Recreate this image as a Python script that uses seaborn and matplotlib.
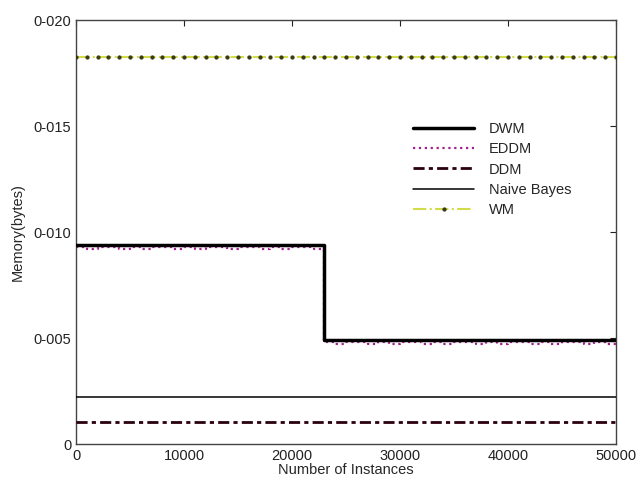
import matplotlib
matplotlib.use("Agg")
import matplotlib.pyplot as plt
import seaborn as sns
import pandas as pd
from matplotlib.ticker import FixedLocator, FixedFormatter

instances = list(range(0, 50001, 1000))

dwm = [0.0094] * 23 + [0.0049] * 28
eddm = [0.0093, 0.0092, 0.0093, 0.0093, 0.0092, 0.0093, 0.0092, 0.0093, 0.0093, 0.0092,
        0.0093, 0.0092, 0.0093, 0.0093, 0.0092, 0.0093, 0.0093, 0.0092, 0.0093, 0.0092,
        0.0093, 0.0093, 0.0092,
        0.0048, 0.0047, 0.0048, 0.0048, 0.0047, 0.0048, 0.0047, 0.0048, 0.0048, 0.0047,
        0.0048, 0.0047, 0.0048, 0.0048, 0.0047, 0.0048, 0.0047, 0.0048, 0.0048, 0.0047,
        0.0048, 0.0047, 0.0048, 0.0048, 0.0047, 0.0048, 0.0047, 0.0048]
ddm = [0.00105] * 51
naive_bayes = [0.00222] * 51
wm = [0.01825] * 51

y_ticks = [0.0, 0.005, 0.010, 0.015, 0.020]
y_tick_labels = ["0", "0-005", "0-010", "0-015", "0-020"]
x_ticks = [0, 10000, 20000, 30000, 40000, 50000]
x_tick_labels = ["0", "10000", "20000", "30000", "40000", "50000"]

df = pd.DataFrame({"instances": instances, "DWM": dwm, "EDDM": eddm,
                   "DDM": ddm, "Naive Bayes": naive_bayes, "WM": wm})

sns.set_style("white")
plt.rcParams["font.family"] = ["Liberation Sans", "DejaVu Sans"]

fig = plt.figure(figsize=(6.39, 4.79), dpi=100)
ax = fig.add_axes([0.119, 0.073, 0.845, 0.885])

sns.lineplot(data=df, x="instances", y="EDDM", ax=ax, color="#a0208c", lw=1.6,
             linestyle=":", drawstyle="steps-post", label="EDDM", zorder=2)
sns.lineplot(data=df, x="instances", y="DWM", ax=ax, color="black", lw=2.5,
             drawstyle="steps-post", label="DWM", zorder=3)
sns.lineplot(data=df, x="instances", y="DDM", ax=ax, color="#2a0010", lw=2.0,
             linestyle=(0, (4, 1.5, 1.5, 1.5)), label="DDM", zorder=3)
sns.lineplot(data=df, x="instances", y="Naive Bayes", ax=ax, color="black", lw=1.1,
             label="Naive Bayes", zorder=3)
sns.lineplot(data=df, x="instances", y="WM", ax=ax, color="#d2dc4a", lw=1.5,
             linestyle="-.", marker="o", markersize=2.3, markerfacecolor="#3a3a10",
             markeredgecolor="#3a3a10", label="WM", zorder=3)

ax.set_xlim(0, 50000)
ax.set_ylim(0, 0.020)
ax.xaxis.set_major_locator(FixedLocator(x_ticks))
ax.xaxis.set_major_formatter(FixedFormatter(x_tick_labels))
ax.yaxis.set_major_locator(FixedLocator(y_ticks))
ax.yaxis.set_major_formatter(FixedFormatter(y_tick_labels))
ax.tick_params(direction="in", length=4, width=0.8, top=True, right=True,
               labelsize=10.5, colors="#222222")
for s in ax.spines.values():
    s.set_color("#444444")
    s.set_linewidth(1.0)

ax.set_xlabel("Number of Instances", fontsize=10.5, labelpad=0)
ax.set_ylabel("Memory(bytes)", fontsize=10.5, labelpad=6)

handles, labels = ax.get_legend_handles_labels()
order = ["DWM", "EDDM", "DDM", "Naive Bayes", "WM"]
hmap = dict(zip(labels, handles))
ax.legend([hmap[k] for k in order], order, frameon=False, fontsize=10.5,
          loc="upper left", bbox_to_anchor=(0.6, 0.79), handlelength=4.2,
          handletextpad=1.0, labelspacing=0.42)

fig.savefig("out.png", dpi=100, facecolor="white")
